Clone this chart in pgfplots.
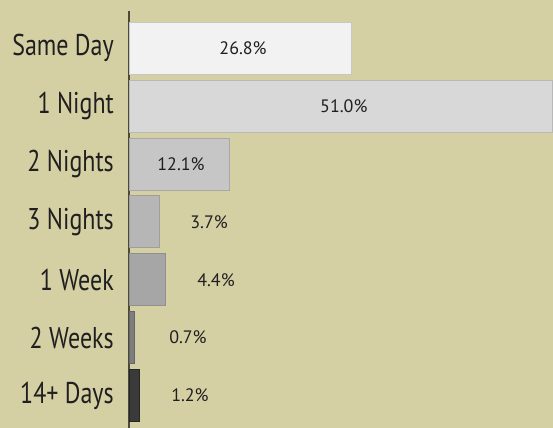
\documentclass[border=0pt]{standalone}
\usepackage{pgfplots}
\pgfplotsset{compat=1.18}
\usepackage{pgfplotstable}
\usepackage{fontspec}
\setmainfont{PT Sans}
\newfontfamily\condfont[FakeStretch=0.80]{PT Sans}
\definecolor{bg}{HTML}{D5CFA4}
\definecolor{axisc}{HTML}{4A493A}
\definecolor{cA}{HTML}{F2F2F2}
\definecolor{cB}{HTML}{D8D8D8}
\definecolor{cC}{HTML}{C6C6C6}
\definecolor{cD}{HTML}{B6B6B6}
\definecolor{cE}{HTML}{A6A6A6}
\definecolor{cF}{HTML}{7E7E7E}
\definecolor{cG}{HTML}{3A3A3A}
\pgfplotstableread{
y xpos label
0 13.75 26.8
1 25.90 51.0
2 6.27 12.1
3 9.65 3.7
4 10.49 4.4
5 7.11 0.7
6 7.35 1.2
}\labels
\begin{document}
\begin{tikzpicture}
\path[use as bounding box, fill=bg] (-129bp,0) rectangle (424bp,428bp);
\begin{axis}[
  scale only axis,
  width=424bp, height=417bp,
  xmin=0, xmax=51.12,
  ymin=-0.64, ymax=6.56,
  y dir=reverse,
  axis x line=none,
  axis y line=left,
  axis line style={-, draw=axisc, line width=1.3bp},
  xtick=\empty,
  ytick={0,1,2,3,4,5,6},
  yticklabels={Same Day,1 Night,2 Nights,3 Nights,1 Week,2 Weeks,14+ Days},
  major tick length=0pt,
  yticklabel style={anchor=east, inner sep=0pt, xshift=-15bp, font=\condfont\fontsize{30bp}{32bp}\selectfont, text=black!88},
  xbar, bar width=52bp, bar shift=0pt,
  clip=false,
]
\addplot[fill=cA, draw=black!22, line width=0.8bp] coordinates {(26.8,0)};
\addplot[fill=cB, draw=black!28, line width=0.8bp] coordinates {(51.0,1)};
\addplot[fill=cC, draw=black!34, line width=0.8bp] coordinates {(12.1,2)};
\addplot[fill=cD, draw=black!38, line width=0.8bp] coordinates {(3.7,3)};
\addplot[fill=cE, draw=black!44, line width=0.8bp] coordinates {(4.4,4)};
\addplot[fill=cF, draw=black!60, line width=0.8bp] coordinates {(0.7,5)};
\addplot[fill=cG, draw=black!85, line width=0.8bp] coordinates {(1.2,6)};
\addplot[draw=none, mark=none, xbar=false, nodes near coords={\pgfplotspointmeta\%},
  nodes near coords align=center, point meta=explicit symbolic,
  every node near coord/.append style={font=\fontsize{18bp}{20bp}\selectfont, text=black!88, anchor=center}]
  table[x=xpos, y=y, meta=label] {\labels};
\end{axis}
\end{tikzpicture}
\end{document}
